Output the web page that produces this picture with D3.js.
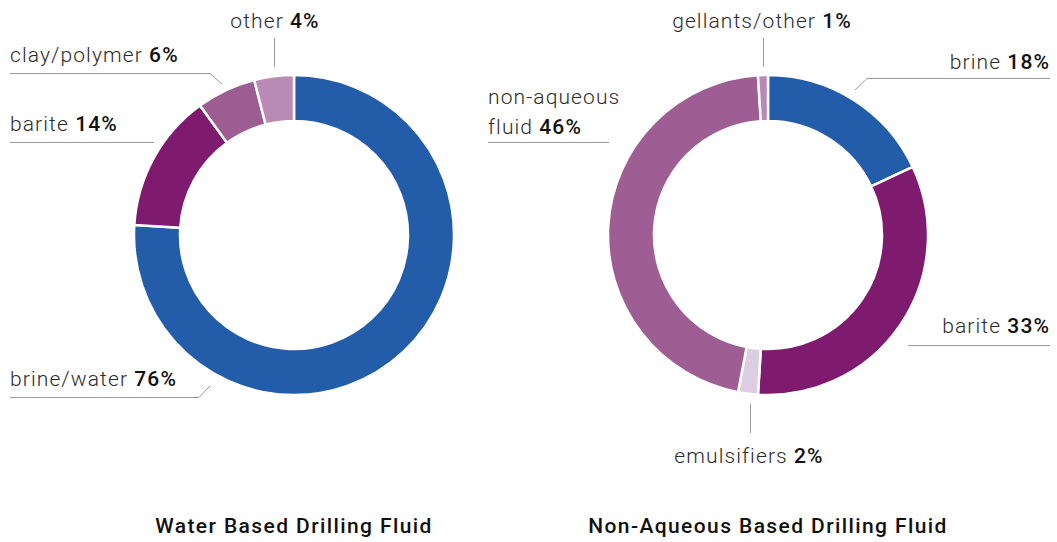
<!DOCTYPE html>
<html>
<head>
<meta charset="utf-8">
<script src="https://cdn.jsdelivr.net/npm/d3@7"></script>
<style>
  body { margin: 0; background: #fff; }
  svg { display: block; }
  .lbl { font-family: Roboto, "Noto Sans", sans-serif; font-weight: 300; font-size: 21px; letter-spacing: 1.1px; fill: #2b2b2b; }
  .lbl tspan.v { font-weight: 500; fill: #111; }
  .title { font-family: Roboto, sans-serif; font-weight: 500; font-size: 21px; letter-spacing: 1.4px; fill: #111; }
</style>
</head>
<body>
<div id="chart"></div>
<script>
// water based drilling fluid
var wbmNames = ['brine/water', 'barite', 'clay/polymer', 'other']
var wbmValues = [76, 14, 6, 4]
var wbmColors = ['#235ca8', '#7e1b6f', '#9d5d93', '#b98ab5']

// non-aqueous based drilling fluid
var nabNames = ['brine', 'barite', 'emulsifiers', 'non-aqueous fluid', 'gellants/other']
var nabValues = [18, 33, 2, 46, 1]
var nabColors = ['#235ca8', '#7e1b6f', '#ddcde2', '#9e5e94', '#b98ab5']

var titles = ['Water Based Drilling Fluid', 'Non-Aqueous Based Drilling Fluid']

var width = 1057, height = 542
var svg = d3.select('#chart').append('svg')
  .attr('width', width)
  .attr('height', height)

var outerR = 160, innerR = 114

// label placement (screen layout, not data)
var wbmLayout = [
  {x: 10, y: 386, anchor: 'start', line: [[10, 397.5], [199, 397.5], [210, 386]]},
  {x: 10, y: 131, anchor: 'start', line: [[10, 142.5], [154, 142.5]]},
  {x: 10, y: 62, anchor: 'start', line: [[10, 73.5], [210, 73.5], [222, 84]]},
  {x: 275, y: 28, anchor: 'middle', line: [[274.5, 38], [274.5, 67]]}
]
var nabLayout = [
  {x: 1050, y: 69, anchor: 'end', line: [[1050, 78.5], [867, 78.5], [855, 90]]},
  {x: 1050, y: 333, anchor: 'end', line: [[908, 345.5], [1050, 345.5]]},
  {x: 749, y: 463, anchor: 'middle', line: [[750.5, 404], [750.5, 433]]},
  {x: 488, y: 104, anchor: 'start', two: true, line: [[488, 142.5], [609, 142.5]]},
  {x: 762, y: 28, anchor: 'middle', line: [[763.5, 38], [763.5, 67]]}
]

drawDonut(294, 235, wbmNames, wbmValues, wbmColors, wbmLayout, titles[0])
drawDonut(768, 235, nabNames, nabValues, nabColors, nabLayout, titles[1])

function drawDonut(cx, cy, names, values, colors, layout, title) {
  var data = names.map(function(n, i) { return {name: n, value: values[i], color: colors[i]} })
  var pie = d3.pie().sort(null).value(function(d) { return d.value })
  var arc = d3.arc().innerRadius(innerR).outerRadius(outerR)

  var g = svg.append('g').attr('transform', 'translate(' + cx + ',' + cy + ')')
  g.selectAll('path')
    .data(pie(data))
    .enter().append('path')
    .attr('d', arc)
    .attr('fill', function(d) { return d.data.color })
    .attr('stroke', '#fff')
    .attr('stroke-width', 2.5)

  var line = d3.line()
  data.forEach(function(d, i) {
    var L = layout[i]
    svg.append('path')
      .attr('d', line(L.line))
      .attr('fill', 'none')
      .attr('stroke', '#9a9a9a')
      .attr('stroke-width', 1)

    var t = svg.append('text')
      .attr('class', 'lbl')
      .attr('x', L.x)
      .attr('y', L.y)
      .attr('text-anchor', L.anchor)
    if (L.two) {
      var parts = d.name.split(' ')
      t.append('tspan').text(parts[0])
      t.append('tspan').attr('x', L.x).attr('dy', 30).text(parts[1] + ' ')
      t.append('tspan').attr('class', 'v').text(d.value + '%')
    } else {
      t.append('tspan').text(d.name + ' ')
      t.append('tspan').attr('class', 'v').text(d.value + '%')
    }
  })

  svg.append('text')
    .attr('class', 'title')
    .attr('x', cx)
    .attr('y', 533)
    .attr('text-anchor', 'middle')
    .text(title)
}
</script>
</body>
</html>
